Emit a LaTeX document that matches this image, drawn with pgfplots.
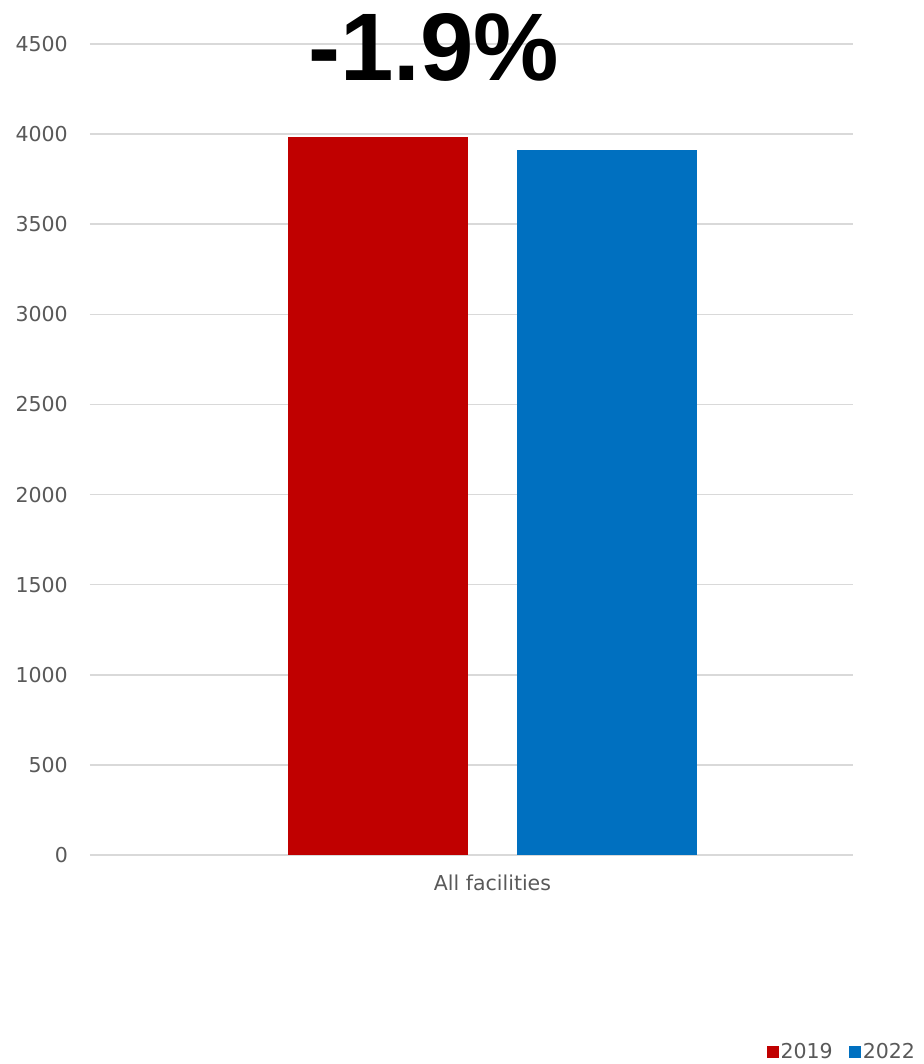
\documentclass[border=0pt]{standalone}
\usepackage{fontspec}
\setmainfont{DejaVu Sans}
\newfontfamily\titlefont{Liberation Sans}
\usepackage{pgfplots}
\pgfplotsset{compat=1.18}
\definecolor{barred}{HTML}{C00000}
\definecolor{barblue}{HTML}{0070C0}
\definecolor{txtgray}{HTML}{595959}
\definecolor{gridgray}{HTML}{D9D9D9}
\begin{document}
\begin{tikzpicture}
\useasboundingbox (-90pt,-209pt) rectangle (833pt,855pt);
\begin{axis}[
    at={(0,0)}, anchor=south west,
    scale only axis,
    width=763pt, height=811pt,
    ybar,
    bar width=180pt,
    xmin=-2.236, xmax=2.003,
    ymin=0, ymax=4500,
    ytick={0,500,...,4500},
    xtick={0},
    xticklabels={All facilities},
    ymajorgrids,
    grid style={gridgray, line width=1.5pt},
    axis line style={draw=none},
    major tick length=0pt,
    tick style={draw=none},
    /pgf/number format/assume math mode=true,
    /pgf/number format/1000 sep={},
    yticklabel style={font=\fontsize{20.5}{24}\selectfont, text=txtgray, inner sep=0pt, xshift=-22pt},
    xticklabel style={font=\fontsize{20.5}{24}\selectfont, text=txtgray, inner sep=0pt, yshift=-20pt},
    legend style={at={(1.088,-0.243)}, anchor=east, draw=none, fill=none,
        legend columns=-1, font=\fontsize{20.5}{24}\selectfont, text=txtgray,
        /tikz/every even column/.append style={column sep=14pt}},
    legend image code/.code={\fill[#1] (0pt,-6pt) rectangle (12pt,6pt);},
    clip=false,
]
\addplot[fill=barred, draw=none, bar shift=-114.5pt] coordinates {(0,3985)};
\addplot[fill=barblue, draw=none, bar shift=114.5pt] coordinates {(0,3910)};
\legend{2019,2022}
\end{axis}
\node[font=\titlefont\bfseries\fontsize{96}{100}\selectfont] at (343.5pt,808pt) {-1.9\%};
\end{tikzpicture}
\end{document}
